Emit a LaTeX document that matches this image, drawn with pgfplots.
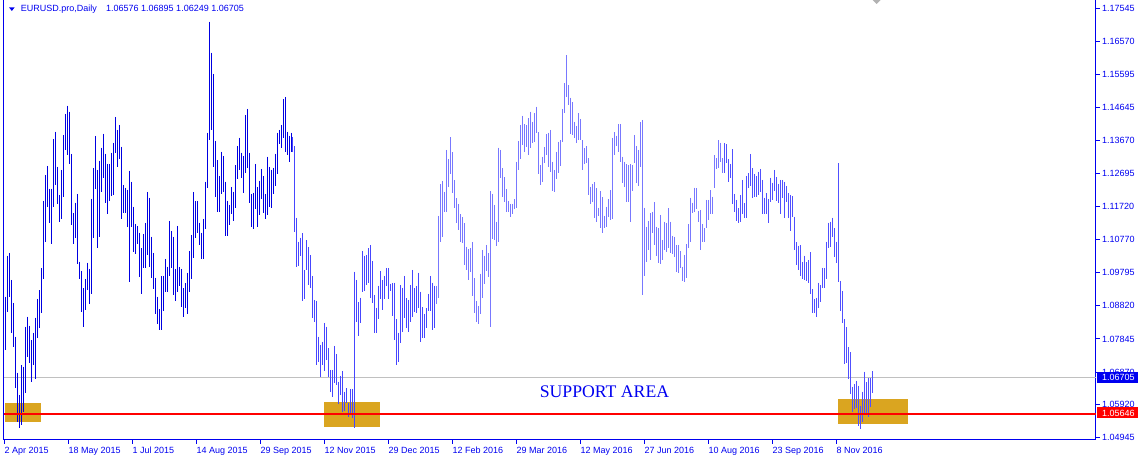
\documentclass[border=0pt]{standalone}
\usepackage{pgfplots}
\pgfplotsset{compat=1.18}
\usepackage{pgfplotstable}
\usepackage{fontspec}
\setmainfont{Liberation Sans}
\newfontfamily\timesf{Liberation Serif}
\definecolor{mtblue}{RGB}{0,0,240}
\definecolor{barA}{RGB}{0,0,225}
\definecolor{barB}{RGB}{70,70,255}
\definecolor{barC}{RGB}{120,120,255}
\definecolor{barD}{RGB}{80,80,255}
\definecolor{gold}{RGB}{218,165,32}
\definecolor{bidgray}{RGB}{192,192,192}

\pgfplotstableread{
i h l
0 1.09085 1.07520
1 1.10288 1.08645
2 1.10366 1.09085
3 1.09574 1.08029
4 1.08899 1.07618
5 1.07911 1.06395
6 1.06855 1.05417
7 1.06200 1.05222
8 1.07080 1.05320
9 1.07031 1.05711
10 1.08205 1.06249
11 1.08498 1.07324
12 1.08234 1.07129
13 1.07813 1.06591
14 1.08029 1.07080
15 1.08469 1.06660
16 1.09016 1.07862
17 1.09280 1.08175
18 1.09916 1.08596
19 1.11902 1.09593
20 1.12655 1.10699
21 1.12919 1.11725
22 1.12254 1.11236
23 1.12254 1.10640
24 1.13711 1.11725
25 1.13926 1.12361
26 1.12899 1.11794
27 1.12068 1.11285
28 1.12801 1.11354
29 1.13828 1.12019
30 1.14444 1.13388
31 1.14689 1.13241
32 1.14513 1.12968
33 1.13271 1.11188
34 1.11540 1.10620
35 1.11843 1.10796
36 1.12097 1.10034
37 1.10112 1.09593
38 1.09848 1.08625
39 1.09329 1.08185
40 1.09603 1.08694
41 1.10082 1.09271
42 1.09897 1.08860
43 1.11960 1.09153
44 1.12860 1.10796
45 1.13799 1.12234
46 1.12801 1.10503
47 1.13075 1.10845
48 1.13457 1.12146
49 1.13867 1.12576
50 1.13281 1.11823
51 1.12987 1.11501
52 1.12968 1.11892
53 1.13310 1.12048
54 1.13603 1.12068
55 1.14356 1.13290
56 1.13975 1.12899
57 1.14122 1.13114
58 1.13486 1.11354
59 1.12361 1.11549
60 1.12283 1.11530
61 1.12224 1.11129
62 1.12782 1.09525
63 1.12459 1.11119
64 1.11725 1.10405
65 1.11217 1.10327
66 1.11158 1.10640
67 1.10963 1.09672
68 1.10503 1.09163
69 1.10924 1.09916
70 1.11246 1.09916
71 1.12156 1.10307
72 1.11990 1.09946
73 1.10845 1.09642
74 1.10366 1.09300
75 1.09642 1.08567
76 1.09085 1.08273
77 1.08723 1.08107
78 1.09691 1.08107
79 1.09691 1.08674
80 1.10190 1.09212
81 1.09965 1.09232
82 1.11305 1.09691
83 1.11012 1.09936
84 1.10845 1.09134
85 1.09897 1.08958
86 1.11158 1.09212
87 1.09955 1.09408
88 1.09897 1.08791
89 1.09329 1.08479
90 1.09476 1.08743
91 1.09789 1.08567
92 1.10425 1.09232
93 1.10894 1.09593
94 1.12156 1.10229
95 1.11892 1.10796
96 1.11892 1.10963
97 1.11256 1.10601
98 1.10963 1.10180
99 1.11364 1.10180
100 1.12459 1.11060
101 1.13897 1.12283
102 1.17153 1.13681
103 1.16244 1.13975
104 1.15618 1.12899
105 1.13662 1.12019
106 1.13095 1.11559
107 1.12625 1.11579
108 1.13339 1.12087
109 1.13212 1.12166
110 1.12459 1.10875
111 1.11902 1.10875
112 1.11774 1.11188
113 1.12303 1.11510
114 1.12166 1.11305
115 1.12939 1.11696
116 1.13505 1.12527
117 1.13750 1.12801
118 1.13310 1.12557
119 1.13212 1.12136
120 1.14415 1.12703
121 1.14591 1.12850
122 1.13310 1.11823
123 1.12097 1.11119
124 1.12136 1.11060
125 1.12977 1.11647
126 1.12303 1.11139
127 1.12488 1.11481
128 1.12831 1.11941
129 1.12625 1.11549
130 1.12097 1.11354
131 1.13192 1.11481
132 1.12889 1.11706
133 1.12811 1.11696
134 1.12870 1.12087
135 1.13281 1.12342
136 1.13897 1.12674
137 1.13975 1.13554
138 1.14122 1.13437
139 1.14884 1.13750
140 1.14943 1.13339
141 1.13926 1.13241
142 1.13809 1.13046
143 1.13897 1.13339
}\barsA

\pgfplotstableread{
i h l
144 1.13770 1.13339
145 1.13505 1.10992
146 1.11403 1.09965
147 1.10699 1.09994
148 1.10816 1.10288
149 1.10943 1.08968
150 1.09867 1.09016
151 1.10747 1.09867
152 1.10532 1.09427
153 1.10307 1.09349
154 1.09691 1.08449
155 1.08987 1.08332
156 1.08968 1.07080
157 1.07911 1.07178
158 1.07667 1.06738
159 1.07765 1.07080
160 1.08312 1.06914
161 1.08205 1.07227
162 1.07569 1.06738
163 1.06933 1.06298
164 1.06933 1.06151
165 1.07637 1.06542
166 1.07403 1.06493
167 1.06591 1.05926
168 1.06757 1.06200
169 1.06904 1.05711
170 1.06298 1.05730
171 1.06395 1.05955
172 1.05975 1.05564
173 1.06376 1.05613
174 1.06376 1.05515
175 1.09818 1.05222
176 1.09574 1.08351
177 1.08919 1.07941
178 1.09056 1.08302
179 1.10425 1.09232
180 1.10288 1.09261
181 1.10307 1.09427
182 1.10503 1.09476
183 1.10601 1.09036
184 1.10131 1.08889
185 1.09134 1.08029
186 1.08762 1.08029
187 1.09408 1.08430
188 1.09838 1.09016
189 1.09574 1.08694
190 1.09691 1.09007
191 1.09916 1.09408
192 1.09916 1.09007
193 1.09466 1.09251
194 1.09476 1.08527
195 1.09496 1.07813
196 1.08430 1.07080
197 1.08029 1.07178
198 1.09427 1.07716
199 1.09349 1.08038
200 1.09691 1.08469
201 1.09036 1.08175
202 1.08987 1.08038
203 1.09427 1.08351
204 1.09867 1.08498
205 1.09329 1.08645
206 1.09398 1.08596
207 1.09789 1.08762
208 1.09232 1.07765
209 1.08772 1.07882
210 1.08576 1.07882
211 1.08743 1.08175
212 1.09163 1.08674
213 1.09691 1.08674
214 1.09496 1.08107
215 1.09408 1.08156
}\barsB

\pgfplotstableread{
i h l
216 1.09398 1.08860
217 1.11452 1.09036
218 1.12381 1.10699
219 1.12479 1.10845
220 1.12166 1.11579
221 1.13388 1.11579
222 1.13124 1.12312
223 1.13760 1.12674
224 1.13320 1.12136
225 1.12508 1.11677
226 1.11970 1.11236
227 1.11804 1.11041
228 1.11501 1.10699
229 1.11413 1.10650
230 1.11236 1.09999
231 1.10552 1.09867
232 1.10483 1.09574
233 1.10503 1.09818
234 1.10679 1.09114
235 1.09623 1.08615
236 1.08968 1.08332
237 1.08811 1.08273
238 1.09759 1.08567
239 1.10454 1.09036
240 1.10288 1.09447
241 1.10601 1.09848
242 1.10356 1.09672
243 1.12185 1.08205
244 1.12097 1.10777
245 1.11774 1.10748
246 1.11285 1.10581
247 1.13457 1.10679
248 1.13388 1.12557
249 1.12850 1.12019
250 1.12586 1.11872
251 1.12244 1.11579
252 1.11892 1.11579
253 1.11804 1.11432
254 1.11804 1.11501
255 1.11950 1.11657
256 1.13046 1.11677
257 1.13652 1.12801
258 1.14122 1.13114
259 1.14395 1.13535
260 1.14141 1.13339
261 1.14122 1.13486
262 1.14317 1.13241
263 1.14513 1.13437
264 1.14219 1.13584
265 1.14464 1.13633
266 1.14659 1.13897
267 1.13906 1.12684
268 1.12939 1.12361
269 1.13192 1.12459
270 1.13466 1.12997
271 1.13858 1.13241
272 1.13897 1.12899
273 1.13975 1.12752
274 1.13046 1.12185
275 1.12801 1.12146
276 1.13339 1.12527
277 1.13633 1.12703
278 1.13681 1.12928
279 1.14581 1.13633
280 1.15344 1.14464
281 1.16175 1.14953
282 1.15295 1.14708
283 1.14924 1.13848
284 1.14787 1.13828
285 1.14219 1.13730
286 1.14092 1.13584
287 1.14464 1.13681
288 1.14298 1.13681
289 1.13681 1.12801
290 1.13437 1.12977
291 1.13505 1.12997
292 1.13144 1.12068
293 1.12312 1.11794
294 1.12391 1.11872
295 1.12439 1.11383
296 1.12263 1.11285
297 1.11696 1.11461
298 1.12185 1.11109
299 1.11999 1.10963
300 1.11452 1.11090
301 1.11725 1.11139
302 1.11950 1.11413
303 1.12214 1.11334
304 1.13750 1.11364
305 1.13906 1.13241
306 1.13809 1.13505
307 1.14141 1.13339
308 1.14151 1.13046
309 1.13192 1.12430
310 1.13046 1.12312
311 1.12968 1.11872
312 1.12939 1.11872
313 1.12968 1.11285
314 1.12939 1.12185
315 1.13828 1.12997
316 1.13505 1.12410
317 1.13388 1.12342
318 1.14200 1.12879
319 1.14268 1.09134
320 1.11696 1.09701
321 1.11139 1.10092
322 1.11305 1.10454
323 1.11530 1.10161
324 1.11579 1.10943
325 1.11853 1.10601
326 1.11139 1.10288
327 1.11090 1.10063
328 1.11481 1.10043
329 1.10748 1.10161
330 1.11285 1.10454
331 1.11236 1.10405
332 1.11677 1.10503
333 1.11285 1.10356
334 1.10875 1.10327
335 1.10845 1.10258
336 1.10601 1.09799
337 1.10601 1.09789
338 1.10425 1.09916
339 1.09965 1.09545
340 1.10307 1.09505
341 1.10620 1.09642
342 1.11207 1.10503
343 1.11990 1.10699
344 1.11843 1.11549
345 1.12283 1.11579
346 1.12263 1.11647
347 1.11598 1.11285
348 1.11628 1.10454
349 1.11207 1.10699
350 1.11090 1.10699
351 1.11921 1.11090
352 1.11921 1.11334
353 1.12214 1.11501
354 1.12019 1.11501
355 1.13241 1.12263
356 1.13144 1.12831
357 1.13681 1.12850
358 1.13603 1.13046
359 1.13144 1.12703
}\barsC

\pgfplotstableread{
i h l
360 1.13583 1.12700
361 1.13554 1.13016
362 1.13124 1.12439
363 1.12977 1.12576
364 1.13408 1.11794
365 1.12097 1.11579
366 1.11921 1.11315
367 1.11677 1.11236
368 1.12068 1.11266
369 1.12508 1.11501
370 1.11823 1.11383
371 1.12625 1.11403
372 1.12703 1.12283
373 1.13271 1.12332
374 1.12850 1.11970
375 1.12674 1.12019
376 1.12625 1.12019
377 1.12752 1.12068
378 1.12831 1.12166
379 1.12508 1.11501
380 1.11990 1.11501
381 1.12117 1.11501
382 1.11941 1.11236
383 1.12576 1.11853
384 1.12430 1.11921
385 1.12801 1.12195
386 1.12586 1.11892
387 1.12391 1.11823
388 1.12508 1.11510
389 1.12508 1.11990
390 1.12459 1.11383
391 1.12332 1.11872
392 1.12117 1.11383
393 1.12068 1.11021
394 1.12038 1.11432
395 1.11432 1.10454
396 1.10679 1.09999
397 1.10581 1.09867
398 1.10601 1.09701
399 1.10112 1.09603
400 1.10288 1.09574
401 1.10092 1.09554
402 1.10150 1.09500
403 1.10386 1.09153
404 1.09310 1.08596
405 1.09016 1.08596
406 1.09056 1.08498
407 1.09496 1.08743
408 1.09427 1.08919
409 1.09936 1.09349
410 1.09916 1.09349
411 1.10699 1.09593
412 1.11256 1.10503
413 1.11285 1.10552
414 1.11403 1.10845
415 1.11090 1.10258
416 1.10699 1.10082
417 1.12997 1.09525
418 1.09545 1.08664
419 1.09251 1.08302
420 1.08420 1.07100
421 1.08185 1.07148
422 1.07598 1.06669
423 1.07452 1.06219
424 1.06444 1.05711
425 1.06513 1.05779
426 1.06611 1.05828
427 1.06474 1.05290
428 1.05887 1.05192
429 1.06298 1.05398
430 1.06884 1.05642
431 1.06571 1.05633
432 1.06689 1.05545
433 1.06689 1.05857
434 1.06895 1.06249
}\barsD

\pgfplotsset{
  hlbar/.style={draw=none, mark=none,
    error bars/.cd, y dir=minus, y explicit, error mark=none,
    error bar style={line width=1pt, draw=#1, solid}},
}

\begin{document}
\begin{tikzpicture}
\useasboundingbox (0,0) rectangle (1138pt,460pt);
\begin{axis}[
  at={(4pt,20pt)}, anchor=south west,
  width=1092pt, height=440pt, scale only axis,
  xmin=-0.5, xmax=545.5, ymin=1.04879, ymax=1.17789,
  axis line style={mtblue, line width=1pt},
  xtick={0,32,64,96,128,160,192,224,256,288,320,352,384,416},
  xticklabels={2 Apr 2015,18 May 2015,1 Jul 2015,14 Aug 2015,29 Sep 2015,12 Nov 2015,29 Dec 2015,12 Feb 2016,29 Mar 2016,12 May 2016,27 Jun 2016,10 Aug 2016,23 Sep 2016,8 Nov 2016},
  ytick={1.04945,1.05920,1.06870,1.07845,1.08820,1.09795,1.10770,1.11720,1.12695,1.13670,1.14645,1.15595,1.16570,1.17545},
  yticklabels={1.04945,1.05920,1.06870,1.07845,1.08820,1.09795,1.10770,1.11720,1.12695,1.13670,1.14645,1.15595,1.16570,1.17545},
  xtick pos=left, ytick pos=right,
  tick align=outside, major tick length=4pt,
  tick style={mtblue, line width=1pt},
  ticklabel style={font=\fontsize{9}{10}\selectfont, text=mtblue},
  xticklabel style={anchor=north west, inner sep=0pt, xshift=-0.5pt, yshift=-3pt},
  yticklabel style={anchor=west, inner sep=0pt, xshift=2pt},
  clip=true,
]
\fill[gold] (axis cs:0,1.05407) rectangle (axis cs:18,1.05965);
\fill[gold] (axis cs:159.65,1.05270) rectangle (axis cs:187.65,1.06003);
\fill[gold] (axis cs:416.65,1.05358) rectangle (axis cs:451.35,1.06091);
\draw[bidgray, line width=1pt] (axis cs:-0.5,1.06705) -- (axis cs:545.5,1.06705);

\addplot[hlbar=barA] table[x expr=\thisrow{i}+0.25, y=h, y error expr=\thisrow{h}-\thisrow{l}] {\barsA};
\addplot[hlbar=barB] table[x=i, y=h, y error expr=\thisrow{h}-\thisrow{l}] {\barsB};
\addplot[hlbar=barC] table[x=i, y=h, y error expr=\thisrow{h}-\thisrow{l}] {\barsC};
\addplot[hlbar=barD] table[x=i, y=h, y error expr=\thisrow{h}-\thisrow{l}] {\barsD};

\draw[red, line width=2pt] (axis cs:-0.5,1.05646) -- (axis cs:545.5,1.05646);
\node[anchor=base, text=mtblue, font=\timesf\fontsize{17.7}{18}\selectfont, inner sep=0pt] at (axis cs:299.75,1.06132) {SUPPORT AREA};
\end{axis}
% price labels on the right scale
\fill[mtblue] (1097pt,77pt) rectangle (1138pt,88pt);
\node[anchor=west, inner sep=0pt, text=white, font=\fontsize{9}{10}\selectfont] at (1102pt,82.5pt) {1.06705};
\fill[red] (1097pt,41.5pt) rectangle (1138pt,52.5pt);
\node[anchor=west, inner sep=0pt, text=white, font=\fontsize{9}{10}\selectfont] at (1102pt,47pt) {1.05646};
% header
\fill[mtblue] (9pt,452.7pt) -- (14.7pt,452.7pt) -- (11.85pt,449pt) -- cycle;
\node[anchor=base west, inner sep=0pt, text=mtblue, font=\fontsize{9}{10}\selectfont] at (20.7pt,448.3pt) {EURUSD.pro,Daily};
\node[anchor=base west, inner sep=0pt, text=mtblue, font=\fontsize{9}{10}\selectfont] at (106pt,448.3pt) {1.06576 1.06895 1.06249 1.06705};
% chart shift marker
\fill[gray!60] (872.7pt,460pt) -- (880.7pt,460pt) -- (876.7pt,456pt) -- cycle;
\end{tikzpicture}
\end{document}
